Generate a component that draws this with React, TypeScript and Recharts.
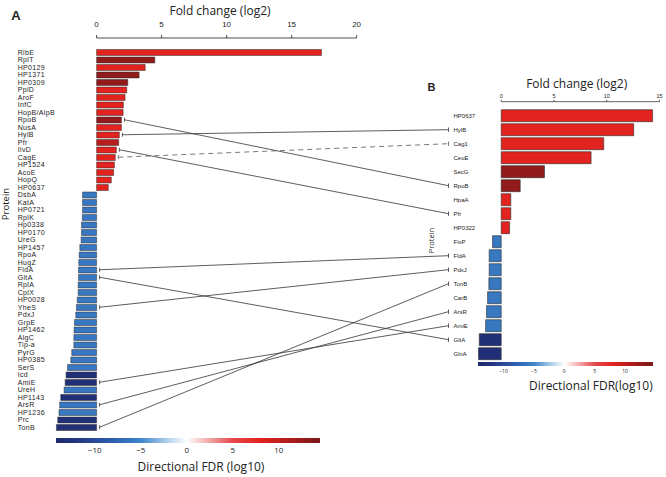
import { BarChart, Bar, XAxis, YAxis, Cell, LineChart } from 'recharts'

// ---- panel A data ----
const A_PROTEINS = [
  'RibE', 'RplT', 'HP0129', 'HP1371', 'HP0309', 'PpiD', 'AroF', 'InfC', 'HopB/AlpB', 'RpoB',
  'NusA', 'HylB', 'Pfr', 'IlvD', 'CagE', 'HP1524', 'AcoE', 'HopQ', 'HP0637',
  'DsbA', 'KatA', 'HP0721', 'RplK', 'Hp0338', 'HP0170', 'UreG', 'HP1457', 'RpoA', 'HugZ',
  'FldA', 'GltA', 'RplA', 'CplX', 'HP0028', 'YheS', 'PdxJ', 'GrpE', 'HP1462', 'AlgC',
  'Tip-a', 'PyrG', 'HP0385', 'SerS', 'Icd', 'AmiE', 'UreH', 'HP1143', 'ArsR', 'HP1236', 'Prc', 'TonB',
]
const A_FOLD = [
  17.3, 4.48, 3.74, 3.27, 2.4, 2.32, 2.19, 2.06, 2.04, 1.91,
  1.91, 1.75, 1.7, 1.52, 1.44, 1.37, 1.31, 1.13, 0.9,
  -1.08, -1.08, -1.08, -1.1, -1.16, -1.16, -1.19, -1.29, -1.34, -1.37,
  -1.39, -1.39, -1.42, -1.42, -1.49, -1.55, -1.6, -1.7, -1.73, -1.75,
  -1.75, -1.91, -1.98, -2.24, -2.35, -2.42, -2.5, -2.76, -2.84, -2.89, -2.99, -3.09,
]
const A_FDR = [
  8, 13, 8, 13, 13, 8, 8, 8, 8, 13,
  8, 8, 10.5, 8, 8, 8, 8, 8, 8,
  -6, -6, -6, -6, -6, -6, -6, -6, -6, -6,
  -6, -6, -6, -6, -6, -6, -6, -6, -6, -6,
  -6, -6, -6, -6, -13, -13, -6, -13, -6, -6, -13, -13,
]

// ---- panel B data ----
const B_PROTEINS = [
  'HP0637', 'HylB', 'Cag1', 'CeuE', 'SecG', 'RpoB', 'HpaA', 'Pfr', 'HP0322',
  'FixP', 'FldA', 'PdxJ', 'TonB', 'CarB', 'ArsR', 'AmiE', 'GltA', 'GlnA',
]
const B_FOLD = [14.35, 12.56, 9.72, 8.52, 4.1, 1.8, 0.91, 0.91, 0.79, -0.82, -1.14, -1.14, -1.17, -1.29, -1.39, -1.48, -2.08, -2.15]
const B_FDR = [8, 8, 8, 8, 13, 13, 8, 8, 8, -6, -6, -6, -6, -6, -6, -6, -13, -13]

// ---- links between panels ----
const LINK_FROM = ['RpoB', 'HylB', 'IlvD', 'CagE', 'FldA', 'GltA', 'YheS', 'AmiE', 'ArsR', 'TonB']
const LINK_TO = ['RpoB', 'HylB', 'Pfr', 'Cag1', 'FldA', 'GltA', 'PdxJ', 'AmiE', 'ArsR', 'TonB']
const LINK_DASHED = ['CagE']

// ---- ticks ----
const FOLD_TICKS_A = [0, 5, 10, 15, 20]
const FOLD_TICKS_B = [0, 5, 10, 15]
const FDR_TICKS = [-10, -5, 0, 5, 10]
const FDR_DOMAIN: [number, number] = [-14.2, 14.5]
const FDR_STOPS: [number, string][] = [
  [-14.2, '#1d2a6b'], [-12, '#243580'], [-8, '#2f5faf'], [-5, '#3d85c9'], [-2.5, '#a2c6e7'],
  [0, '#ffffff'], [2.5, '#f2a5a5'], [5, '#e4484a'], [8, '#e2231f'], [11, '#b01d1d'], [14.5, '#7a1818'],
]

const FONT = '"Liberation Sans", Arial, sans-serif'
const TITLE_FONT = '"Open Sans", "Noto Sans", sans-serif'
const INK = '#222'

function hex(c: string) {
  return [1, 3, 5].map(i => parseInt(c.slice(i, i + 2), 16))
}
function fdrColor(v: number) {
  for (let i = 0; i < FDR_STOPS.length - 1; i++) {
    const [v0, c0] = FDR_STOPS[i]
    const [v1, c1] = FDR_STOPS[i + 1]
    if (v <= v1 || i === FDR_STOPS.length - 2) {
      const t = Math.max(0, Math.min(1, (v - v0) / (v1 - v0)))
      const a = hex(c0), b = hex(c1)
      return `rgb(${a.map((x, k) => Math.round(x + (b[k] - x) * t)).join(',')})`
    }
  }
  return '#fff'
}

// ---- geometry ----
const A_DOMAIN: [number, number] = [-3.2, 20]
const A_PX = 13
const A_YW = 55
const A_AXIS_H = 38
const A_PAD = 10.5
const A_ROW = 7.5
const A_PLOT_W = (A_DOMAIN[1] - A_DOMAIN[0]) * A_PX
const A_W = A_YW + A_PLOT_W + 6
const A_H = A_AXIS_H + A_PAD + A_PROTEINS.length * A_ROW

const B_LEFT = 420
const B_TOP = 70
const B_DOMAIN: [number, number] = [-2.2, 15]
const B_PX = 10.55
const B_YW = 58
const B_AXIS_H = 31.7
const B_PAD = 7
const B_ROW = 14
const B_PLOT_W = (B_DOMAIN[1] - B_DOMAIN[0]) * B_PX
const B_W = B_YW + B_PLOT_W + 4
const B_H = B_AXIS_H + B_PAD + B_PROTEINS.length * B_ROW
const B_LABEL_X = 33.5

const aData = A_PROTEINS.map((name, i) => ({ name, fold: A_FOLD[i], fdr: A_FDR[i] }))
const bData = B_PROTEINS.map((name, i) => ({ name, fold: B_FOLD[i], fdr: B_FDR[i] }))

const aX = (v: number) => A_YW + (v - A_DOMAIN[0]) * A_PX
const aY = (name: string) => A_AXIS_H + A_PAD + (A_PROTEINS.indexOf(name) + 0.5) * A_ROW
const bY = (name: string) => B_TOP + B_AXIS_H + B_PAD + (B_PROTEINS.indexOf(name) + 0.5) * B_ROW

function ATick({ y, payload }: { y?: number; payload?: { value: string } }) {
  return (
    <text x={17.7} y={y} dy={2.5} fontSize={7} letterSpacing={0.35} fill={INK} fontFamily={FONT}>{payload?.value}</text>
  )
}

function BTick({ y, payload }: { y?: number; payload?: { value: string } }) {
  return (
    <text x={B_LABEL_X} y={y} dy={2.1} fontSize={6} fill={INK} fontFamily={FONT}>{payload?.value}</text>
  )
}

// gradient legend for the directional FDR; ticks come from a recharts number axis
function ColorBar({ left, top, width, barH, fontSize, tickMargin }: {
  left: number; top: number; width: number; barH: number; fontSize: number; tickMargin: number
}) {
  const span = FDR_DOMAIN[1] - FDR_DOMAIN[0]
  const grad = FDR_STOPS.map(([v, c]) => `${c} ${((v - FDR_DOMAIN[0]) / span) * 100}%`).join(', ')
  return (
    <div style={{ position: 'absolute', left, top }}>
      <div style={{ width, height: barH, background: `linear-gradient(to right, ${grad})` }} />
      <div style={{ position: 'absolute', left: 0, top: barH }}>
        <LineChart width={width} height={16} data={[{ x: FDR_DOMAIN[0] }, { x: FDR_DOMAIN[1] }]} margin={{ top: 0, right: 0, bottom: 0, left: 0 }}>
          <XAxis
            type="number"
            dataKey="x"
            orientation="top"
            domain={FDR_DOMAIN}
            ticks={FDR_TICKS}
            allowDataOverflow
            axisLine={false}
            tickLine={false}
            tickSize={0}
            mirror
            tickMargin={tickMargin}
            height={16}
            tick={{ fontSize, fill: INK, fontFamily: TITLE_FONT }}
            tickFormatter={(v: number) => (v < 0 ? `\u2212${-v}` : `${v}`)}
          />
          <YAxis hide domain={[0, 1]} />
        </LineChart>
      </div>
    </div>
  )
}

export default function App() {
  const aZero = (0 - A_DOMAIN[0]) * A_PX
  const bZero = (0 - B_DOMAIN[0]) * B_PX
  const bLinkX = B_LEFT + B_LABEL_X - 5
  return (
    <div style={{ position: 'absolute', left: 0, top: 0, width: 666, height: 477, background: '#fff', overflow: 'hidden' }}>
      <div style={{ position: 'absolute', left: 0, top: 0 }}>
        <BarChart layout="vertical" width={A_W} height={A_H} data={aData} margin={{ top: 0, right: 6, bottom: 0, left: 0 }}>
          <XAxis
            type="number"
            orientation="top"
            domain={A_DOMAIN}
            ticks={FOLD_TICKS_A}
            allowDataOverflow
            height={A_AXIS_H}
            tickSize={3}
            tickMargin={7.7}
            axisLine={{ stroke: INK, strokeWidth: 0.8, strokeDasharray: `0 ${aZero} ${A_PLOT_W}` }}
            tickLine={{ stroke: INK, strokeWidth: 0.8 }}
            tick={{ fontSize: 8, fill: INK, fontFamily: FONT }}
          />
          <YAxis
            type="category"
            dataKey="name"
            width={A_YW}
            padding={{ top: A_PAD, bottom: 0 }}
            axisLine={false}
            tickLine={false}
            tickSize={0}
            interval={0}
            tick={<ATick />}
          />
          <Bar dataKey="fold" barSize={6} stroke="#2b2b2b" strokeWidth={0.5} isAnimationActive={false}>
            {aData.map((d, i) => <Cell key={i} fill={fdrColor(d.fdr)} />)}
          </Bar>
        </BarChart>
      </div>

      <div style={{ position: 'absolute', left: B_LEFT, top: B_TOP }}>
        <BarChart layout="vertical" width={B_W} height={B_H} data={bData} margin={{ top: 0, right: 4, bottom: 0, left: 0 }}>
          <XAxis
            type="number"
            orientation="top"
            domain={B_DOMAIN}
            ticks={FOLD_TICKS_B}
            allowDataOverflow
            height={B_AXIS_H}
            tickSize={2}
            tickMargin={1.5}
            axisLine={{ stroke: INK, strokeWidth: 0.7, strokeDasharray: `0 ${bZero} ${B_PLOT_W}` }}
            tickLine={{ stroke: INK, strokeWidth: 0.7 }}
            tick={{ fontSize: 5.5, fill: INK, fontFamily: FONT }}
          />
          <YAxis
            type="category"
            dataKey="name"
            width={B_YW}
            padding={{ top: B_PAD, bottom: 0 }}
            axisLine={false}
            tickLine={false}
            tickSize={0}
            interval={0}
            tick={<BTick />}
          />
          <Bar dataKey="fold" barSize={12} stroke="#2b2b2b" strokeWidth={0.6} isAnimationActive={false}>
            {bData.map((d, i) => <Cell key={i} fill={fdrColor(d.fdr)} />)}
          </Bar>
        </BarChart>
      </div>

      <ColorBar left={55.7} top={437.7} width={264.3} barH={5.6} fontSize={8} tickMargin={4} />
      <ColorBar left={478.3} top={361.7} width={174.4} barH={4.3} fontSize={5} tickMargin={3} />

      <svg width={666} height={477} style={{ position: 'absolute', left: 0, top: 0, pointerEvents: 'none' }}>
        {LINK_FROM.map((from, i) => {
          const x1 = aX(Math.max(A_FOLD[A_PROTEINS.indexOf(from)], 0)) + 3
          const y1 = aY(from)
          const y2 = bY(LINK_TO[i])
          const dashed = LINK_DASHED.includes(from)
          const stroke = dashed ? '#555' : '#333'
          return (
            <g key={from} stroke={stroke} strokeWidth={0.8} fill="none">
              <line x1={x1} y1={y1} x2={bLinkX} y2={y2} strokeDasharray={dashed ? '5 4' : undefined} />
              <line x1={x1} y1={y1 - 2} x2={x1} y2={y1 + 2} />
              <line x1={bLinkX} y1={y2 - 2.2} x2={bLinkX} y2={y2 + 2.2} />
            </g>
          )
        })}

        <text x={16} y={15} fontSize={13} fontWeight="bold" fill={INK} fontFamily={FONT} textAnchor="middle" dominantBaseline="central">A</text>
        <text x={431.5} y={86.5} fontSize={11} fontWeight="bold" fill={INK} fontFamily={FONT} textAnchor="middle" dominantBaseline="central">B</text>

        <text x={220} y={10} fontSize={12} fill={INK} fontFamily={TITLE_FONT} textAnchor="middle" dominantBaseline="central">Fold change (log2)</text>
        <text x={576.7} y={83} fontSize={12} fill={INK} fontFamily={TITLE_FONT} textAnchor="middle" dominantBaseline="central">Fold change (log2)</text>

        <text transform="translate(5.5,204) rotate(-90)" fontSize={9.5} fill={INK} fontFamily={TITLE_FONT} textAnchor="middle" dominantBaseline="central">Protein</text>
        <text transform="translate(430.5,240.5) rotate(-90)" fontSize={7.5} fill={INK} fontFamily={TITLE_FONT} textAnchor="middle" dominantBaseline="central">Protein</text>

        <text x={201} y={466.7} fontSize={12} fill={INK} fontFamily={TITLE_FONT} textAnchor="middle" dominantBaseline="central">Directional FDR (log10)</text>
        <text x={652.7} y={385} fontSize={12} fill={INK} fontFamily={TITLE_FONT} textAnchor="end" dominantBaseline="central">Directional FDR(log10)</text>
      </svg>
    </div>
  )
}
